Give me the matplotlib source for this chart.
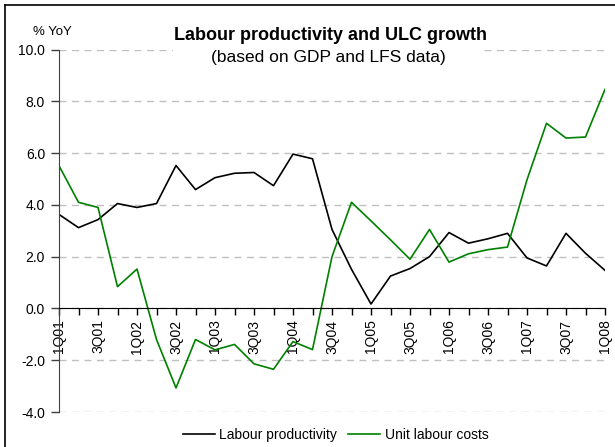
import matplotlib
matplotlib.use("Agg")
import matplotlib.pyplot as plt
from matplotlib.lines import Line2D
from matplotlib.patches import Rectangle

plt.rcParams['font.family'] = ['Liberation Sans', 'DejaVu Sans']

quarters = ["1Q01", "2Q01", "3Q01", "4Q01", "1Q02", "2Q02", "3Q02", "4Q02",
            "1Q03", "2Q03", "3Q03", "4Q03", "1Q04", "2Q04", "3Q04", "4Q04",
            "1Q05", "2Q05", "3Q05", "4Q05", "1Q06", "2Q06", "3Q06", "4Q06",
            "1Q07", "2Q07", "3Q07", "4Q07", "1Q08"]

productivity = [3.63, 3.12, 3.43, 4.05, 3.90, 4.05, 5.52, 4.59,
                5.05, 5.22, 5.25, 4.74, 5.96, 5.78, 3.05, 1.51,
                0.17, 1.25, 1.54, 2.00, 2.93, 2.52, 2.69, 2.90,
                1.95, 1.64, 2.90, 2.13, 1.47]

ulc = [5.51, 4.10, 3.90, 0.84, 1.52, -1.20, -3.07, -1.20,
       -1.60, -1.39, -2.14, -2.35, -1.28, -1.59, 2.00, 4.10,
       3.38, 2.65, 1.90, 3.05, 1.79, 2.11, 2.27, 2.37,
       4.97, 7.15, 6.58, 6.62, 8.46]

yticks = [-4.0, -2.0, 0.0, 2.0, 4.0, 6.0, 8.0, 10.0]

fig = plt.figure(figsize=(6.15, 4.47), dpi=100)
ax = fig.add_axes([59 / 615, 1 - 412 / 447, 546 / 615, 362.5 / 447])

x = list(range(len(quarters)))
ax.plot(x, productivity, color='black', linewidth=1.2, label="Labour productivity")
ax.plot(x, ulc, color='#008000', linewidth=1.2, label="Unit labour costs")

ax.set_xlim(0, len(quarters) - 1)
ax.set_ylim(-4, 10)

# dashed horizontal grid
for v in yticks:
    ax.axhline(v, color='#c0c0c0', linestyle=(0, (5, 4)), linewidth=1.0, zorder=0)

for side in ['top', 'right']:
    ax.spines[side].set_visible(False)
ax.spines['left'].set_color('#404040')
ax.spines['bottom'].set_position(('data', 0))
ax.spines['bottom'].set_color('black')

ax.set_yticks(yticks)
ax.set_yticklabels(["%.1f" % v for v in yticks])
ax.set_xticks(x)
ax.set_xticklabels([q if i % 2 == 0 else "" for i, q in enumerate(quarters)],
                   rotation=90, va='top', ha='center')
ax.tick_params(axis='y', direction='out', length=6, width=1, color='#404040',
               labelsize=10, pad=4)
ax.tick_params(axis='x', direction='out', length=5, width=1, labelsize=10, pad=3)

# title box sits on top of the grid
fig.patches.append(Rectangle((173 / 615, 1 - 66 / 447), 307 / 615, 46 / 447,
                             facecolor='white', edgecolor='none',
                             transform=fig.transFigure, zorder=2))
fig.text(0.5374, 0.9105, "Labour productivity and ULC growth", ha='center',
         va='baseline', fontsize=13, fontweight='bold', zorder=3)
fig.text(0.534, 0.8624, "(based on GDP and LFS data)", ha='center',
         va='baseline', fontsize=12.5, zorder=3)
fig.text(0.0846, 0.9217, "% YoY", ha='center', va='baseline', fontsize=9.5)

fig.legend(loc='center', bbox_to_anchor=(0.546, 0.027), ncol=2, frameon=False,
           fontsize=10, handlelength=2.3, handletextpad=0.3, columnspacing=0.8)

# chart border on the left and top
fig.add_artist(Line2D([5 / 615, 5 / 615], [0, 1 - 5 / 447], color='black',
                      linewidth=1.2, transform=fig.transFigure))
fig.add_artist(Line2D([5 / 615, 1], [1 - 5 / 447, 1 - 5 / 447], color='black',
                      linewidth=1.2, transform=fig.transFigure))

fig.savefig("out.png", dpi=100)
